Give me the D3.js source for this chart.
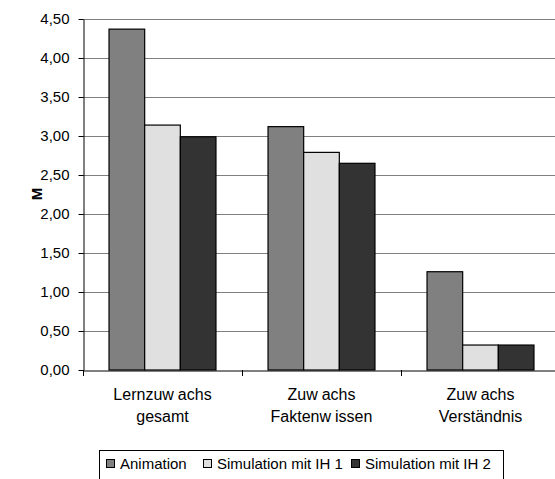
<!DOCTYPE html>
<html><head><meta charset="utf-8">
<script src="https://cdn.jsdelivr.net/npm/d3@7"></script>
<style>body{margin:0;background:#fff}svg{display:block}text{font-family:"Liberation Sans",Arial,sans-serif;fill:#000}</style>
</head><body><svg id="c" width="555" height="479"></svg>
<script>
const categories = [["Lernzuw","achs","gesamt"],["Zuw","achs","Faktenw","issen"],["Zuw","achs","Verständnis"]];
const categoryNames = ["Lernzuwachs gesamt","Zuwachs Faktenwissen","Zuwachs Verständnis"];
const series = ["Animation","Simulation mit IH 1","Simulation mit IH 2"];
const animation = [4.37, 3.12, 1.26];
const ih1 = [3.14, 2.79, 0.32];
const ih2 = [2.99, 2.65, 0.32];
const yTicks = [0,0.5,1,1.5,2,2.5,3,3.5,4,4.5];
const colors = ["#808080","#e0e0e0","#333333"];
const values = [animation, ih1, ih2];

(function(){
const svg = d3.select("#c");
const pLeft = 83, pRight = 560, pTop = 19, pBottom = 370;
const x0 = d3.scaleBand().domain(categoryNames).range([pLeft, pRight]).padding(0);
const x1 = d3.scaleBand().domain(series).range([0, x0.bandwidth()]).paddingInner(0).paddingOuter(0.73);
const y = d3.scaleLinear().domain([0, 4.5]).range([pBottom, pTop]);

svg.append("g").selectAll("line").data(yTicks.filter(d=>d>0)).join("line")
  .attr("x1", pLeft).attr("x2", pRight).attr("y1", d=>Math.round(y(d))+0.5).attr("y2", d=>Math.round(y(d))+0.5)
  .attr("stroke", "#808080").attr("stroke-width", 1);

const g = svg.append("g");
categoryNames.forEach((c, i) => {
  series.forEach((s, j) => {
    const v = values[j][i];
    g.append("rect")
      .attr("x", x0(c) + x1(s)).attr("y", y(v))
      .attr("width", x1.bandwidth()).attr("height", y(0) - y(v))
      .attr("fill", colors[j]).attr("stroke", "#000").attr("stroke-width", 1.2);
  });
});

const yAxis = d3.axisLeft(y).tickValues(yTicks).tickSize(5).tickSizeOuter(0)
  .tickFormat(d => d3.format(".2f")(d).replace(".", ","));
const ya = svg.append("g").attr("transform", `translate(${pLeft+0.5},0)`).call(yAxis);
ya.select(".domain").attr("stroke", "#000");
ya.selectAll(".tick line").attr("stroke", "#000");
ya.selectAll(".tick text").attr("x", -14).style("font-size", "15px").style("font-family", "Liberation Sans, Arial, sans-serif");

const xAxis = d3.axisBottom(x0).tickSize(0).tickFormat("");
const xa = svg.append("g").attr("transform", `translate(0,${pBottom+0.5})`).call(xAxis);
xa.select(".domain").attr("stroke", "#000");
svg.append("g").selectAll("line").data(categoryNames.map(c => x0(c)).concat([pRight]))
  .join("line").attr("x1", d=>Math.round(d)+0.5).attr("x2", d=>Math.round(d)+0.5)
  .attr("y1", pBottom).attr("y2", pBottom+6).attr("stroke", "#000");

categories.forEach((parts, i) => {
  const cx = x0(categoryNames[i]) + x0.bandwidth()/2;
  const t = svg.append("text").attr("text-anchor", "middle").style("font-size", "16px");
  const l1 = t.append("tspan").attr("x", cx).attr("y", 400);
  l1.append("tspan").text(parts[0]);
  l1.append("tspan").attr("dx", 4).text(parts[1]);
  if (parts.length === 3) {
    t.append("tspan").attr("x", cx).attr("y", 422).text(parts[2]);
  } else {
    const l2 = t.append("tspan").attr("x", cx).attr("y", 422);
    l2.append("tspan").text(parts[2]);
    l2.append("tspan").attr("dx", 4).text(parts[3]);
  }
});

svg.append("text").attr("transform", "translate(42,194) rotate(-90)").attr("text-anchor", "middle")
  .style("font-size", "15px").style("font-weight", "bold").text("M");

svg.append("rect").attr("x", 99.5).attr("y", 450.5).attr("width", 404).attr("height", 40)
  .attr("fill", "#fff").attr("stroke", "#000");
const legX = [106, 203, 351];
series.forEach((s, j) => {
  svg.append("rect").attr("x", legX[j]+0.5).attr("y", 459.5).attr("width", 8).attr("height", 8)
    .attr("fill", colors[j]).attr("stroke", "#000");
  svg.append("text").attr("x", legX[j] + 14).attr("y", 469).style("font-size", "15px").text(s);
});
})();
</script></body></html>
